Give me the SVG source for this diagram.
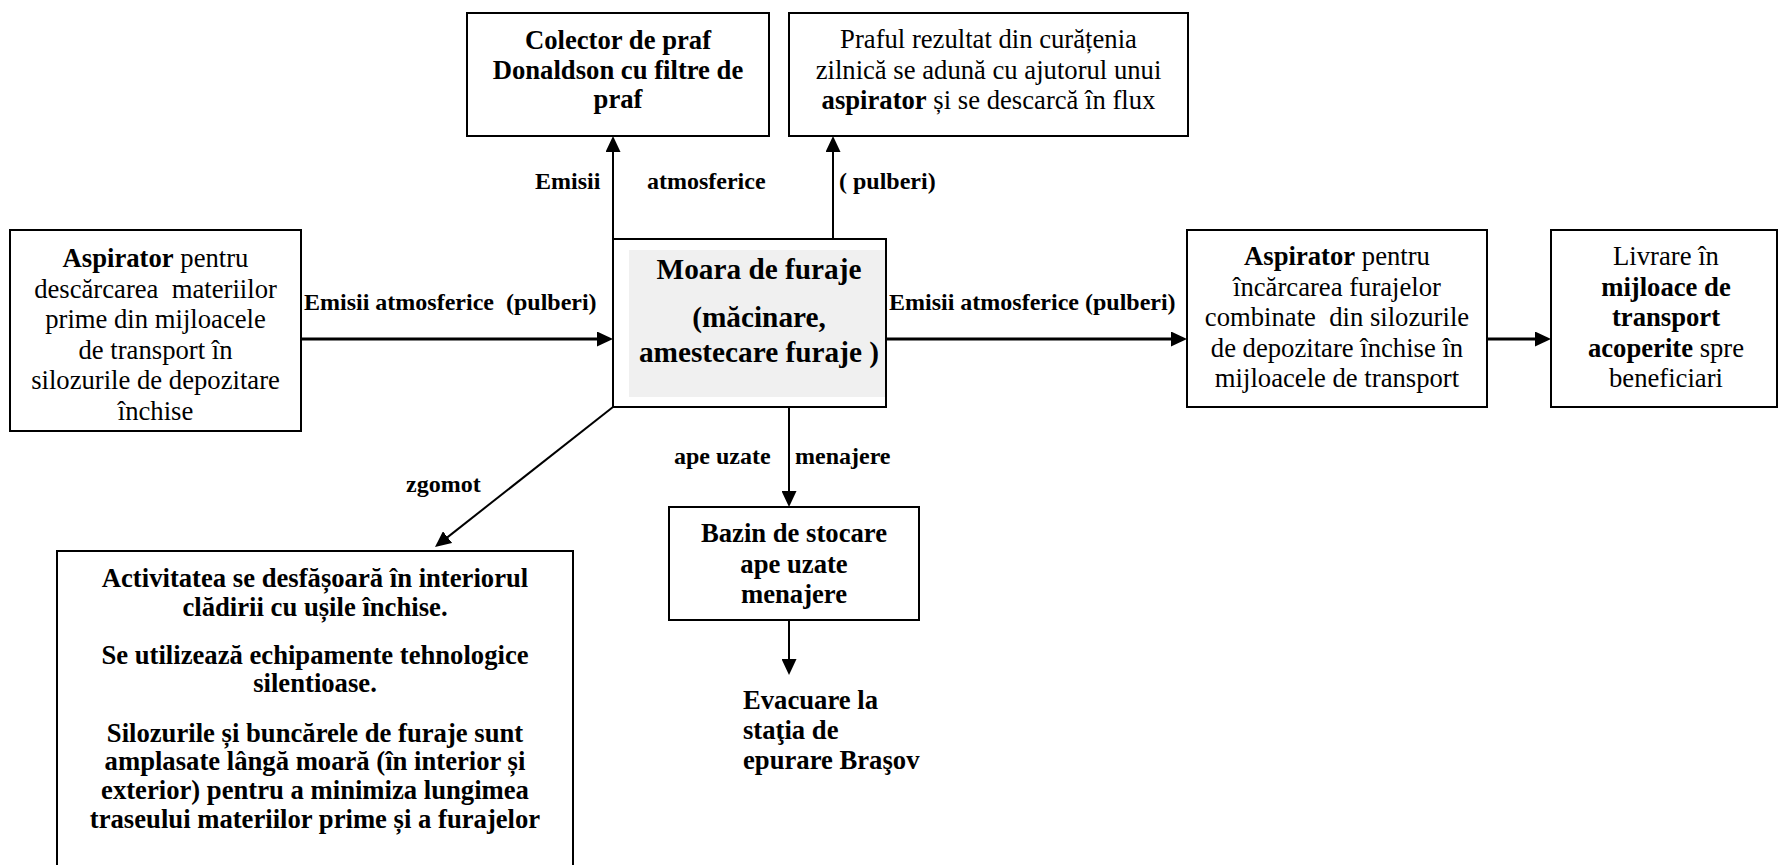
<svg xmlns="http://www.w3.org/2000/svg" width="1779" height="865" viewBox="0 0 1779 865">
  <style>
    .box { fill: #ffffff; stroke: #000000; stroke-width: 2; }
    .t { font-family: "Liberation Serif", "Times New Roman", serif; font-size: 26.67px; fill: #000; text-anchor: middle; }
    .b { font-weight: bold; }
    .lbl { font-family: "Liberation Serif", "Times New Roman", serif; font-size: 24px; font-weight: bold; fill: #000; }
    .big { font-size: 29.3px; font-weight: bold; }
    .c { stroke: #000; fill: none; }
    .thin { stroke-width: 2; }
    .thick { stroke-width: 3; }
  </style>
  <defs>
    <marker id="arrow" viewBox="0 0 16 15" refX="8" refY="7.5" markerWidth="16" markerHeight="15" markerUnits="userSpaceOnUse" orient="auto">
      <path d="M0,0 L16,7.5 L0,15 z" fill="#000"/>
    </marker>
  </defs>

  <rect width="1779" height="865" fill="#ffffff"/>

  <!-- connectors -->
  <g id="connectors">
    <line class="c thin" x1="613" y1="239" x2="613" y2="144" marker-end="url(#arrow)"/>
    <line class="c thin" x1="833" y1="239" x2="833" y2="144" marker-end="url(#arrow)"/>
    <line class="c thick" x1="301" y1="339" x2="605" y2="339" marker-end="url(#arrow)"/>
    <line class="c thick" x1="886" y1="339" x2="1179" y2="339" marker-end="url(#arrow)"/>
    <line class="c thick" x1="1487" y1="339" x2="1543" y2="339" marker-end="url(#arrow)"/>
    <line class="c thin" x1="613" y1="407" x2="441.3" y2="542.1" marker-end="url(#arrow)"/>
    <line class="c thin" x1="789" y1="407" x2="789" y2="499" marker-end="url(#arrow)"/>
    <line class="c thin" x1="789" y1="620" x2="789" y2="667" marker-end="url(#arrow)"/>

    <text class="lbl" x="535" y="189">Emisii</text>
    <text class="lbl" x="647" y="189">atmosferice</text>
    <text class="lbl" x="839" y="189" xml:space="preserve">( pulberi)</text>
    <text class="lbl" x="304" y="310" xml:space="preserve">Emisii atmosferice  (pulberi)</text>
    <text class="lbl" x="889" y="310">Emisii atmosferice (pulberi)</text>
    <text class="lbl" x="674" y="464">ape uzate</text>
    <text class="lbl" x="795" y="464">menajere</text>
    <text class="lbl" x="406" y="492">zgomot</text>
  </g>

  <!-- dust collector -->
  <g id="colector">
    <rect class="box" x="467" y="13" width="302" height="123"/>
    <text class="t b" x="618" y="49">Colector de praf</text>
    <text class="t b" x="618" y="78.5">Donaldson cu filtre de</text>
    <text class="t b" x="618" y="108">praf</text>
  </g>

  <!-- daily cleaning dust -->
  <g id="praf-curatenie">
    <rect class="box" x="789" y="13" width="399" height="123"/>
    <text class="t" x="988.5" y="48">Praful rezultat din curățenia</text>
    <text class="t" x="988.5" y="79">zilnică se adună cu ajutorul unui</text>
    <text class="t" x="988.5" y="109"><tspan class="b">aspirator</tspan> și se descarcă în flux</text>
  </g>

  <!-- unloading aspirator -->
  <g id="aspirator-descarcare">
    <rect class="box" x="10" y="230" width="291" height="201"/>
    <text class="t" x="155.5" y="267"><tspan class="b">Aspirator</tspan> pentru</text>
    <text class="t" x="155.5" y="297.5" xml:space="preserve">descărcarea  materiilor</text>
    <text class="t" x="155.5" y="328">prime din mijloacele</text>
    <text class="t" x="155.5" y="358.5">de transport în</text>
    <text class="t" x="155.5" y="389">silozurile de depozitare</text>
    <text class="t" x="155.5" y="419.5">închise</text>
  </g>

  <!-- feed mill -->
  <g id="moara">
    <rect class="box" x="613" y="239" width="273" height="168"/>
    <rect x="629" y="250" width="256" height="147" fill="#f0f0f0"/>
    <text class="t big" x="759" y="279">Moara de furaje</text>
    <text class="t big" x="759" y="327">(măcinare,</text>
    <text class="t big" x="759" y="362">amestecare furaje )</text>
  </g>

  <!-- loading aspirator -->
  <g id="aspirator-incarcare">
    <rect class="box" x="1187" y="230" width="300" height="177"/>
    <text class="t" x="1337" y="265"><tspan class="b">Aspirator</tspan> pentru</text>
    <text class="t" x="1337" y="295.5">încărcarea furajelor</text>
    <text class="t" x="1337" y="326" xml:space="preserve">combinate  din silozurile</text>
    <text class="t" x="1337" y="356.5">de depozitare închise în</text>
    <text class="t" x="1337" y="387">mijloacele de transport</text>
  </g>

  <!-- delivery -->
  <g id="livrare">
    <rect class="box" x="1551" y="230" width="226" height="177"/>
    <text class="t" x="1666" y="265">Livrare în</text>
    <text class="t b" x="1666" y="295.5">mijloace de</text>
    <text class="t b" x="1666" y="326">transport</text>
    <text class="t" x="1666" y="356.5"><tspan class="b">acoperite</tspan> spre</text>
    <text class="t" x="1666" y="387">beneficiari</text>
  </g>

  <!-- noise measures -->
  <g id="zgomot-masuri">
    <rect class="box" x="57" y="551" width="516" height="330"/>
    <text class="t b" x="315" y="587">Activitatea se desfășoară în interiorul</text>
    <text class="t b" x="315" y="616">clădirii cu ușile închise.</text>
    <text class="t b" x="315" y="664">Se utilizează echipamente tehnologice</text>
    <text class="t b" x="315" y="692">silentioase.</text>
    <text class="t b" x="315" y="742">Silozurile și buncărele de furaje sunt</text>
    <text class="t b" x="315" y="770">amplasate lângă moară (în interior și</text>
    <text class="t b" x="315" y="799">exterior) pentru a minimiza lungimea</text>
    <text class="t b" x="315" y="828">traseului materiilor prime și a furajelor</text>
  </g>

  <!-- wastewater tank -->
  <g id="bazin">
    <rect class="box" x="669" y="507" width="250" height="113"/>
    <text class="t b" x="794" y="542">Bazin de stocare</text>
    <text class="t b" x="794" y="573">ape uzate</text>
    <text class="t b" x="794" y="603">menajere</text>
  </g>

  <!-- discharge -->
  <g id="evacuare">
    <text class="t b" x="743" y="709" style="text-anchor:start">Evacuare la</text>
    <text class="t b" x="743" y="739" style="text-anchor:start">staţia de</text>
    <text class="t b" x="743" y="769" style="text-anchor:start">epurare Braşov</text>
  </g>
</svg>
